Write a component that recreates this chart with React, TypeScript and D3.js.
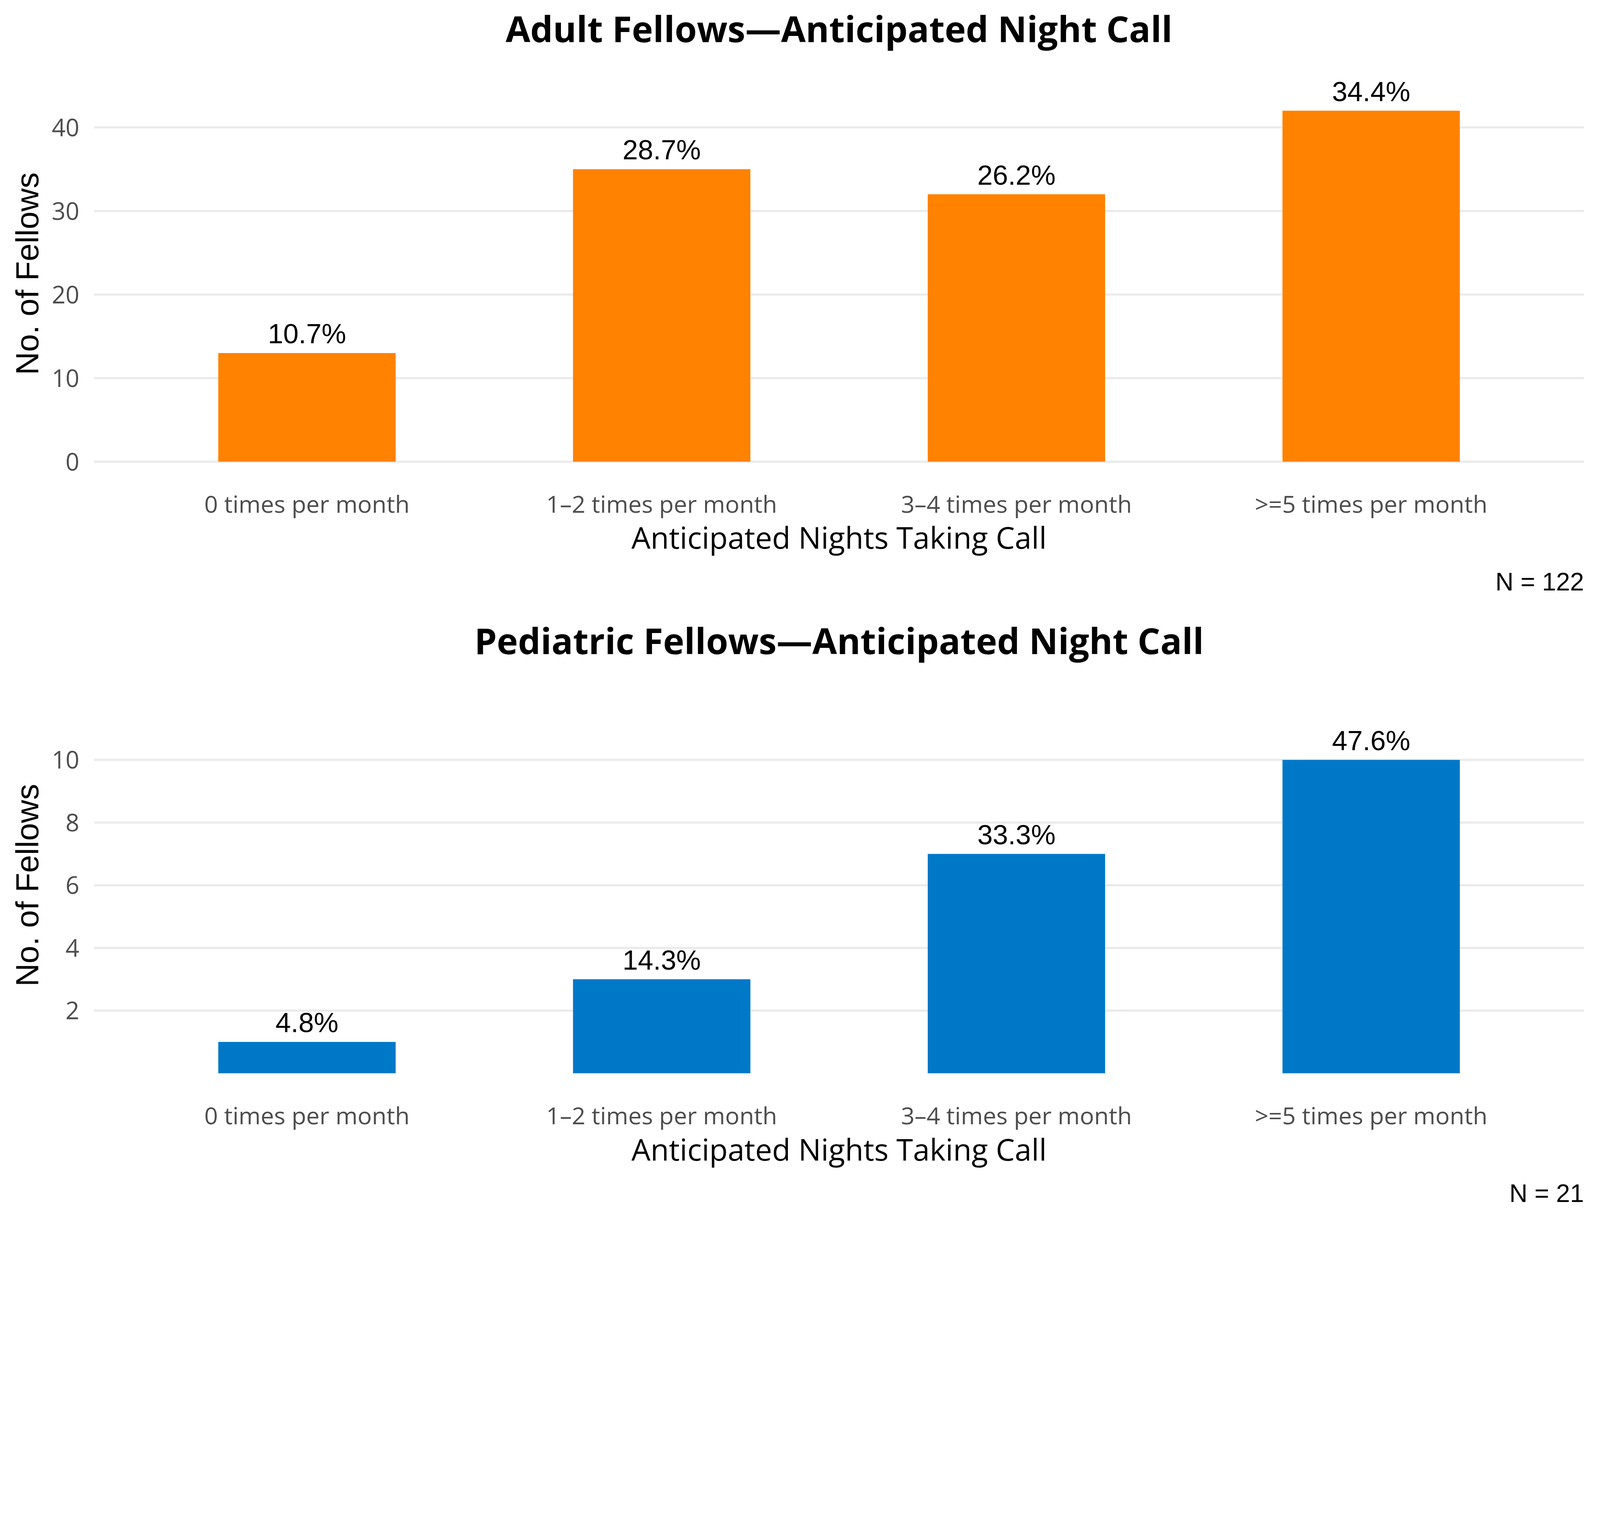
import React, { useEffect } from 'react';
import * as d3 from 'd3';

const categories = ['0 times per month', '1–2 times per month', '3–4 times per month', '>=5 times per month'];
const adultCounts = [13, 35, 32, 42];
const pediatricCounts = [1, 3, 7, 10];
const adultTicks = [0, 10, 20, 30, 40];
const pediatricTicks = [2, 4, 6, 8, 10];

const W = 5100;
const H = 3900;
const PANEL_H = 1950;

const sansUI = "'Open Sans', 'Noto Sans', sans-serif";
const sansArial = "'Liberation Sans', Arial, sans-serif";

interface PanelProps {
  title: string;
  counts: number[];
  ticks: number[];
  yDomain: [number, number];
  color: string;
  offsetY: number;
}

const Panel: React.FC<PanelProps> = ({ title, counts, ticks, yDomain, color, offsetY }) => {
  const left = 300;
  const right = 5049;
  const top = 297;
  const bottom = 1528;

  const x = d3.scaleBand<string>()
    .domain(categories)
    .range([left, right])
    .paddingInner(0.5)
    .paddingOuter(0.35);

  const y = d3.scaleLinear().domain(yDomain).range([bottom, top]);
  const total = d3.sum(counts);
  const cx = (left + right) / 2;

  return (
    <g transform={`translate(0,${offsetY})`}>
      <text x={cx} y={135} textAnchor="middle" fontFamily={sansUI} fontWeight="bold" fontSize={114} fill="#000">
        {title}
      </text>

      {ticks.map(t => (
        <g key={t}>
          <line x1={left} x2={right} y1={y(t)} y2={y(t)} stroke="#EBEBEB" strokeWidth={7} />
          <text x={253} y={y(t) + 28} textAnchor="end" fontFamily={sansUI} fontSize={77} fill="#4D4D4D">
            {t}
          </text>
        </g>
      ))}

      {counts.map((c, i) => (
        <g key={categories[i]}>
          <rect
            x={x(categories[i])!}
            y={y(c)}
            width={x.bandwidth()}
            height={y(0) - y(c)}
            fill={color}
          />
          <text
            x={x(categories[i])! + x.bandwidth() / 2}
            y={y(c) - 31}
            textAnchor="middle"
            fontFamily={sansArial}
            fontSize={88}
            fill="#000"
          >
            {`${((c / total) * 100).toFixed(1)}%`}
          </text>
          <text
            x={x(categories[i])! + x.bandwidth() / 2}
            y={1635}
            textAnchor="middle"
            fontFamily={sansUI}
            fontSize={76}
            fill="#4D4D4D"
          >
            {categories[i]}
          </text>
        </g>
      ))}

      <text x={cx} y={1750} textAnchor="middle" fontFamily={sansUI} fontSize={96} fill="#000">
        Anticipated Nights Taking Call
      </text>

      <text
        transform={`translate(122,${(top + bottom) / 2 - 40}) rotate(-90)`}
        textAnchor="middle"
        fontFamily={sansArial}
        fontSize={102}
        fill="#000"
      >
        No. of Fellows
      </text>

      <text x={right} y={1883} textAnchor="end" fontFamily={sansArial} fontSize={80} fill="#000">
        {`N = ${total}`}
      </text>
    </g>
  );
};

export default function App() {
  useEffect(() => {
    document.body.style.margin = '0';
    document.body.style.overflow = 'hidden';
  }, []);

  return (
    <svg
      viewBox={`0 0 ${W} ${H}`}
      preserveAspectRatio="xMidYMin meet"
      style={{ display: 'block', width: '100%', height: 'auto', background: '#fff' }}
    >
      <rect width={W} height={H} fill="#fff" />
      <Panel
        title="Adult Fellows—Anticipated Night Call"
        counts={adultCounts}
        ticks={adultTicks}
        yDomain={[-2.1, 44.1]}
        color="#FF8200"
        offsetY={0}
      />
      <Panel
        title="Pediatric Fellows—Anticipated Night Call"
        counts={pediatricCounts}
        ticks={pediatricTicks}
        yDomain={[-0.56, 11.76]}
        color="#0078C8"
        offsetY={PANEL_H}
      />
    </svg>
  );
}
